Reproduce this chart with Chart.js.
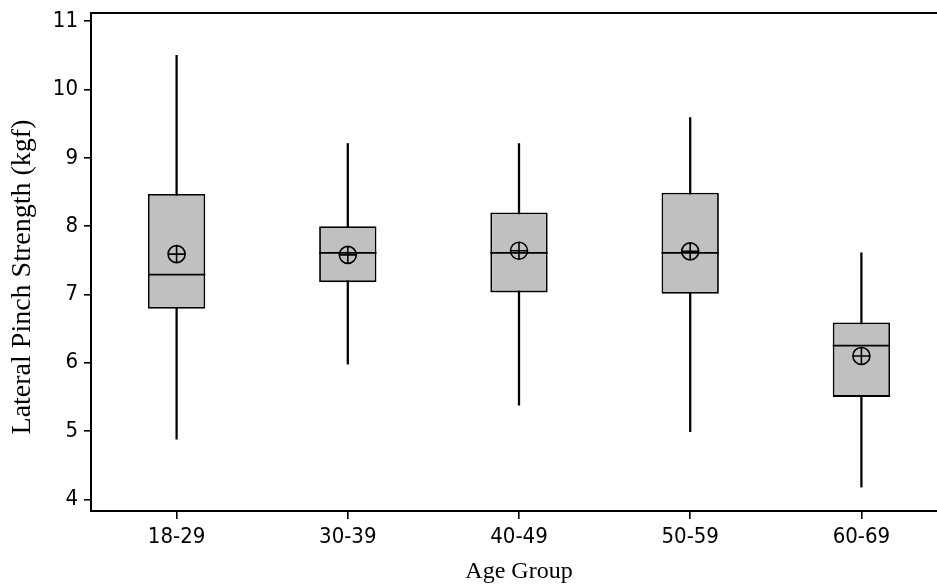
<!DOCTYPE html>
<html>
<head>
<meta charset="utf-8">
<script src="https://cdn.jsdelivr.net/npm/chart.js@4"></script>
<style>
  html, body { margin: 0; padding: 0; background: #fff; overflow: hidden; }
  #wrap { width: 960px; height: 588px; }
</style>
</head>
<body>
<div id="wrap"><canvas id="box-chart" width="960" height="588"></canvas></div>
<script>
const GROUPS = ['18-29', '30-39', '40-49', '50-59', '60-69'];
const LOW = [4.88, 5.98, 5.38, 4.99, 4.18];
const Q1 = [6.79, 7.18, 7.03, 7.01, 5.50];
const MEDIAN = [7.29, 7.61, 7.61, 7.61, 6.25];
const Q3 = [8.47, 8.00, 8.20, 8.49, 6.59];
const HIGH = [10.50, 9.21, 9.21, 9.59, 7.61];
const MEAN = [7.59, 7.58, 7.64, 7.63, 6.10];
const Y_TICKS = [4, 5, 6, 7, 8, 9, 10, 11];
const Y_TITLE = 'Lateral Pinch Strength (kgf)';

const TICK_FONT = { family: "'DejaVu Sans Condensed', 'DejaVu Sans'", size: 22 };
const TITLE_FONT = { family: "'Liberation Serif', serif", size: 24 };

// median lines across each box, top frame line, y title (sits a bit low in the original)
const boxExtras = {
    id: 'boxExtras',
    afterDatasetsDraw(chart) {
        const { ctx, chartArea } = chart;
        const y = chart.scales.y;
        const boxes = chart.getDatasetMeta(1).data;
        ctx.save();
        ctx.strokeStyle = '#000';
        ctx.lineWidth = 1.8;
        MEDIAN.forEach((m, i) => {
            const el = boxes[i];
            const py = y.getPixelForValue(m);
            ctx.beginPath();
            ctx.moveTo(el.x - el.width / 2, py);
            ctx.lineTo(el.x + el.width / 2, py);
            ctx.stroke();
        });
        ctx.lineWidth = 2;
        ctx.beginPath();
        ctx.moveTo(chartArea.left, chartArea.top);
        ctx.lineTo(chartArea.right, chartArea.top);
        ctx.stroke();

        ctx.translate(23, (chartArea.top + chartArea.bottom) / 2 + 15);
        ctx.rotate(-Math.PI / 2);
        ctx.font = "28px 'Liberation Serif', serif";
        ctx.fillStyle = '#000';
        ctx.textAlign = 'center';
        ctx.textBaseline = 'middle';
        ctx.fillText(Y_TITLE, 0, 0);
        ctx.restore();
    }
};

new Chart(document.getElementById('box-chart').getContext('2d'), {
    data: {
        labels: GROUPS,
        datasets: [
            { type: 'bar', data: GROUPS.map((g, i) => [LOW[i], HIGH[i]]), backgroundColor: '#000', barThickness: 1.6, grouped: false, order: 3 },
            { type: 'bar', data: GROUPS.map((g, i) => [Q1[i], Q3[i]]), backgroundColor: '#C0C0C0', borderColor: '#000', borderWidth: 1.8, borderSkipped: false, categoryPercentage: 1, barPercentage: 0.335, grouped: false, order: 2 },
            { type: 'line', data: MEAN, showLine: false, pointStyle: 'circle', pointRadius: 8.5, pointBackgroundColor: 'rgba(0,0,0,0)', pointBorderColor: '#000', pointBorderWidth: 1.6, order: 1 },
            { type: 'line', data: MEAN, showLine: false, pointStyle: 'cross', pointRadius: 8.5, pointBorderColor: '#000', pointBorderWidth: 1.6, order: 0 }
        ]
    },
    options: {
        responsive: false,
        animation: false,
        events: [],
        layout: { padding: { left: 0, right: 13, top: 13, bottom: 0 } },
        plugins: { legend: { display: false }, tooltip: { enabled: false } },
        scales: {
            x: {
                type: 'category',
                offset: true,
                afterFit: s => { s.height = 77; },
                grid: { offset: false, drawOnChartArea: false, drawTicks: true, tickLength: 8, color: '#000', lineWidth: 1.6 },
                border: { display: true, color: '#000', width: 2 },
                ticks: { color: '#000', font: TICK_FONT, padding: 5 },
                title: { display: true, text: 'Age Group', color: '#000', font: TITLE_FONT, padding: { top: 0, bottom: 2 } }
            },
            y: {
                type: 'linear',
                min: 3.83,
                max: 11.12,
                afterBuildTicks: s => { s.ticks = Y_TICKS.map(v => ({ value: v })); },
                afterFit: s => { s.width = 91; s.paddingTop = 0; s.paddingBottom = 0; },
                grid: { drawOnChartArea: false, drawTicks: true, tickLength: 7, color: '#000', lineWidth: 1.6 },
                border: { display: true, color: '#000', width: 2 },
                ticks: { color: '#000', font: TICK_FONT, padding: 6 },
                title: { display: false }
            }
        }
    },
    plugins: [boxExtras]
});
</script>
</body>
</html>
